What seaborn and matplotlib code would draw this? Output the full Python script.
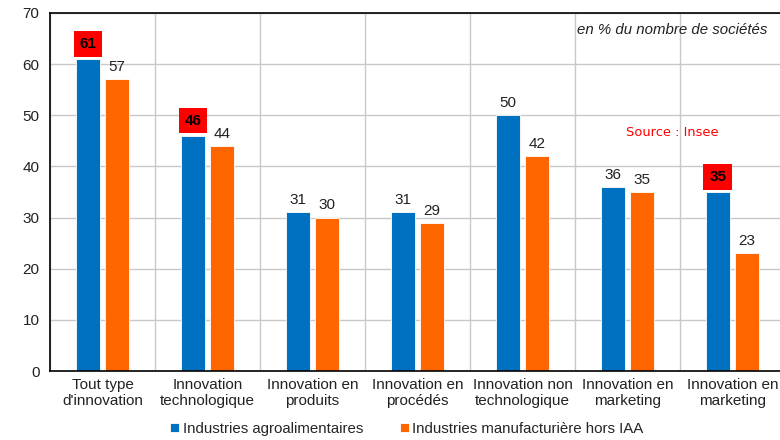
import pandas as pd
import numpy as np
import matplotlib.pyplot as plt
import seaborn as sns

categories = ["Tout type\nd'innovation", "Innovation\ntechnologique", "Innovation en\nproduits",
              "Innovation en\nprocédés", "Innovation non\ntechnologique", "Innovation en\nmarketing",
              "Innovation en\nmarketing"]
iaa = [61, 46, 31, 31, 50, 36, 35]
hors_iaa = [57, 44, 30, 29, 42, 35, 23]
highlight = [0, 1, 6]  # labels with red box (IAA series)
series = ["Industries agroalimentaires", "Industries manufacturière hors IAA"]

df = pd.DataFrame({
    "cat": list(range(len(categories))) * 2,
    "serie": [series[0]] * len(iaa) + [series[1]] * len(hors_iaa),
    "val": iaa + hors_iaa,
})

sns.set_style("white")
plt.rcParams['font.family'] = ['Liberation Sans', 'DejaVu Sans']

fig = plt.figure(figsize=(7.8, 4.4), dpi=100)
ax = fig.add_axes([50/780, 69/440, 735/780, 358/440])

sns.barplot(data=df, x="cat", y="val", hue="serie", palette=["#0070C0", "#FF6600"],
            saturation=1, width=0.56, gap=0.2, edgecolor="white", linewidth=0.6, ax=ax, legend=True)

ax.set_ylim(0, 70)
ax.set_xlim(-0.5, len(categories) - 0.5)
ax.set_yticks(range(0, 71, 10))
ax.set_xticks(range(len(categories)))
ax.set_xticklabels(categories, fontsize=11, color="#222222", linespacing=1.15)
ax.set_xticks(np.arange(-0.5, len(categories), 1), minor=True)
ax.tick_params(axis="x", which="major", length=0, pad=5)
ax.tick_params(axis="x", which="minor", length=4, width=1, color="black")
ax.tick_params(axis="y", length=4, width=1, color="black", labelsize=11, labelcolor="#222222")
ax.set_xlabel("")
ax.set_ylabel("")

ax.grid(False)
ax.yaxis.grid(True, color="#C8C8C8", linewidth=1)
ax.xaxis.grid(True, which="minor", color="#C8C8C8", linewidth=1)
ax.set_axisbelow(True)
for s in ["left", "bottom", "top"]:
    ax.spines[s].set_color("black")
    ax.spines[s].set_linewidth(1.2)
ax.spines["right"].set_visible(False)

off = 0.14
for i in range(len(categories)):
    if i in highlight:
        ax.text(i - off, iaa[i] + 1.6, str(iaa[i]), ha="center", va="bottom", fontsize=11,
                fontweight="bold", color="black",
                bbox=dict(boxstyle="square,pad=0.38", facecolor="red", edgecolor="none"))
    else:
        ax.text(i - off, iaa[i] + 1.0, str(iaa[i]), ha="center", va="bottom", fontsize=11, color="#222222")
    ax.text(i + off, hors_iaa[i] + 1.0, str(hors_iaa[i]), ha="center", va="bottom", fontsize=11, color="#222222")

fig.text(767/780, 410/440, "en % du nombre de sociétés", ha="right", va="center",
         fontsize=10.8, style="italic", color="#222222")
fig.text(672/780, 307/440, "Source : Insee", ha="center", va="center",
         fontsize=9.4, color="red", family="DejaVu Sans")

handles, labels = ax.get_legend_handles_labels()
ax.get_legend().remove()
fig.legend(handles, labels, loc="center", bbox_to_anchor=(407/780, 11/440), ncol=2,
           frameon=False, fontsize=10.8, handlelength=0.6, handleheight=0.6,
           handletextpad=0.25, columnspacing=2.4, borderpad=0)

fig.savefig("out.png", dpi=100)
